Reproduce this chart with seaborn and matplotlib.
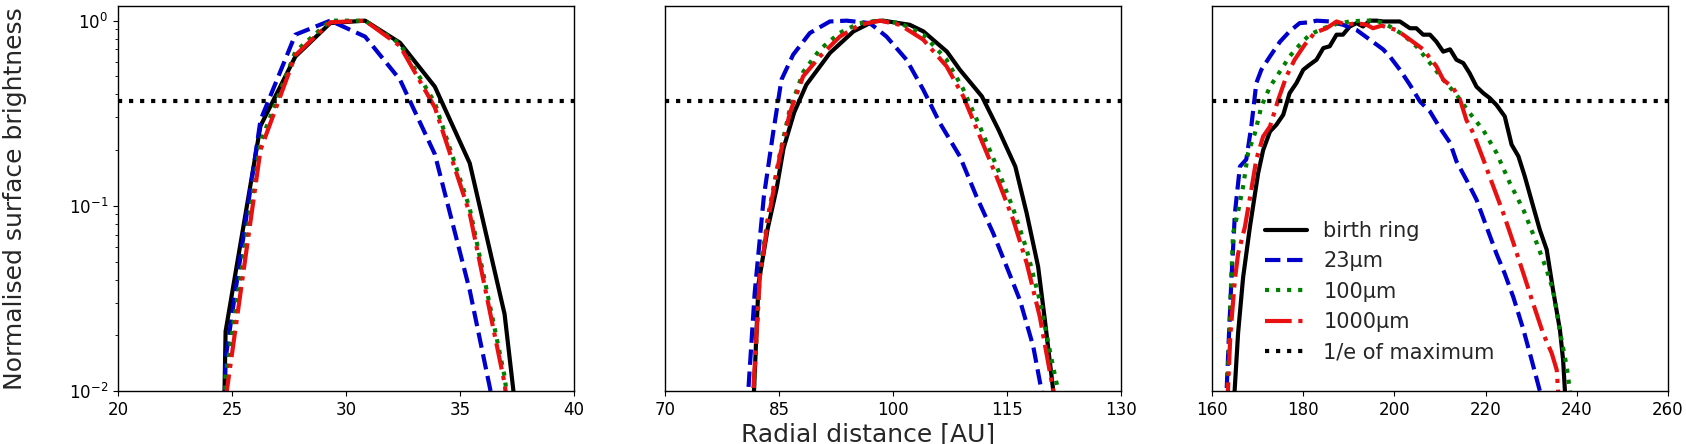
import numpy as np
import matplotlib
matplotlib.use("Agg")
import matplotlib.pyplot as plt
import seaborn as sns

# --- panel 1: inner ring (20-40 AU) ---
r1 = [23.19, 24.72, 26.25, 27.78, 29.31, 30.84, 32.37, 33.90, 35.43, 36.96, 38.49]
birth1 = [1e-12, 0.021, 0.27, 0.64, 0.97, 1.0, 0.76, 0.44, 0.17, 0.026, 0.0006]
s23_1 = [1e-12, 0.015, 0.29, 0.84, 1.0, 0.82, 0.48, 0.19, 0.035, 0.0043, 0.0001]
s100_1 = [1e-12, 0.012, 0.22, 0.68, 1.0, 1.0, 0.75, 0.36, 0.097, 0.012, 0.0003]
s1000_1 = [1e-12, 0.009, 0.20, 0.65, 0.98, 1.0, 0.73, 0.34, 0.091, 0.011, 0.0003]

# --- panel 2: middle ring (70-130 AU) ---
birth2_r = [81.3, 82.3, 83.5, 84.7, 85.6, 87.0, 88.6, 91.7, 94.8, 97.4, 98.7, 102.2, 104.0,
            107.1, 108.8, 111.7, 113.9, 116.1, 117.6, 119.1, 120.0, 121.1, 121.6]
birth2 = [0.004, 0.038, 0.075, 0.125, 0.205, 0.32, 0.451, 0.669, 0.875, 0.99, 1.0, 0.95, 0.875,
          0.68, 0.543, 0.39, 0.257, 0.163, 0.091, 0.047, 0.024, 0.01, 0.005]
s23_2_r = [80.8, 81.8, 83.0, 84.22, 85.32, 86.86, 89.05, 91.69, 93.88, 96.95, 99.15, 101.78,
           103.98, 106.17, 108.8, 111.0, 113.2, 114.95, 116.7, 118.46, 119.56, 120.2]
s23_2 = [0.008, 0.034, 0.112, 0.247, 0.48, 0.655, 0.857, 0.99, 1.0, 0.97, 0.82, 0.615,
         0.424, 0.28, 0.185, 0.112, 0.071, 0.047, 0.031, 0.0174, 0.01, 0.007]
s100_2_r = [81.4, 82.5, 83.6, 85.1, 86.4, 88.2, 90.4, 93.0, 95.6, 98.3, 100.9, 104.0, 107.0,
            109.2, 111.4, 113.6, 115.8, 117.6, 119.3, 121.0, 121.75, 122.3]
s100_2 = [0.006, 0.045, 0.09, 0.19, 0.33, 0.53, 0.70, 0.86, 0.97, 1.0, 0.97, 0.84, 0.62,
          0.43, 0.27, 0.165, 0.097, 0.058, 0.031, 0.014, 0.01, 0.006]
s1000_2_r = [81.3, 82.47, 83.56, 85.1, 86.42, 88.17, 90.37, 93.0, 95.64, 98.27, 100.9, 103.98,
             107.05, 109.25, 111.44, 113.63, 115.83, 117.6, 119.34, 121.1, 121.5]
s1000_2 = [0.006, 0.041, 0.084, 0.185, 0.317, 0.50, 0.64, 0.82, 0.95, 1.0, 0.95, 0.79,
           0.567, 0.39, 0.237, 0.144, 0.084, 0.049, 0.025, 0.01, 0.007]

# --- panel 3: outer ring (160-260 AU) ---
birth3_r = [164.7, 165.7, 166.8, 168.3, 170.1, 171.2, 172.7, 174.1, 175.6, 177.0, 178.5, 180.0,
            181.4, 182.9, 184.4, 185.8, 187.3, 188.7, 190.2, 191.7, 193.1, 194.6, 196.1, 197.5,
            199.0, 201.2, 203.4, 204.8, 206.3, 207.8, 209.2, 210.7, 212.2, 213.6, 215.1, 216.5,
            218.0, 219.5, 220.9, 222.4, 224.2, 225.7, 227.2, 228.6, 230.4, 231.9, 233.4, 234.8,
            236.3, 237.0, 237.4, 237.7]
birth3 = [0.008, 0.0205, 0.041, 0.077, 0.150, 0.20, 0.252, 0.274, 0.31, 0.406, 0.46, 0.543,
          0.578, 0.615, 0.711, 0.727, 0.84, 0.84, 0.93, 0.97, 0.93, 1.0, 1.0, 0.99,
          0.99, 0.99, 0.91, 0.91, 0.84, 0.84, 0.77, 0.68, 0.70, 0.615, 0.59, 0.52,
          0.44, 0.406, 0.382, 0.35, 0.304, 0.214, 0.185, 0.144, 0.10, 0.074, 0.058, 0.035,
          0.0214, 0.0147, 0.01, 0.006]
s23_3_r = [162.8, 163.7, 164.2, 165.0, 166.1, 167.5, 168.6, 169.7, 170.8, 172.7, 174.9, 177.0,
           179.2, 181.4, 182.9, 185.8, 188.7, 191.7, 194.6, 197.5, 199.0, 201.2, 203.4, 205.6,
           207.8, 210.0, 212.2, 213.6, 215.8, 218.0, 220.2, 222.4, 224.2, 226.1, 228.3, 230.1,
           231.9, 232.5]
s23_3 = [0.006, 0.02, 0.038, 0.091, 0.163, 0.178, 0.268, 0.46, 0.543, 0.641, 0.77, 0.875,
         0.97, 0.98, 1.0, 0.99, 0.95, 0.89, 0.79, 0.70, 0.64, 0.543, 0.45, 0.366,
         0.323, 0.263, 0.219, 0.174, 0.138, 0.108, 0.077, 0.055, 0.043, 0.032, 0.0214, 0.0147,
         0.01, 0.008]
s100_3_r = [163.2, 164.0, 164.6, 165.7, 166.8, 167.9, 169.4, 170.8, 172.7, 174.9, 177.0, 179.2,
            181.4, 184.4, 187.3, 190.2, 193.1, 196.1, 199.0, 201.9, 204.8, 207.8, 210.7, 213.6,
            216.5, 219.5, 222.4, 225.3, 228.3, 231.2, 233.4, 234.8, 236.3, 237.8, 238.5, 239.0]
s100_3 = [0.008, 0.03, 0.071, 0.093, 0.127, 0.193, 0.247, 0.344, 0.44, 0.532, 0.641, 0.74,
          0.84, 0.91, 0.96, 0.99, 1.0, 1.0, 0.93, 0.84, 0.727, 0.59, 0.48, 0.398,
          0.317, 0.256, 0.193, 0.133, 0.095, 0.063, 0.045, 0.035, 0.021, 0.0135, 0.01, 0.007]
s1000_3_r = [163.3, 164.0, 165.0, 165.7, 167.2, 168.6, 169.7, 171.2, 172.7, 174.5, 176.3, 178.1,
             180.3, 182.5, 185.1, 187.3, 189.5, 191.7, 193.9, 195.3, 197.2, 199.0, 200.5, 203.4,
             206.3, 209.2, 210.7, 212.9, 214.4, 215.8, 217.3, 219.5, 221.7, 223.9, 226.1, 228.3,
             230.4, 232.6, 234.5, 235.6, 235.9, 236.1]
s1000_3 = [0.008, 0.02, 0.04, 0.055, 0.077, 0.122, 0.178, 0.237, 0.268, 0.374, 0.50, 0.615,
           0.74, 0.86, 0.91, 0.99, 0.95, 0.97, 0.95, 0.91, 0.94, 0.91, 0.89, 0.79,
           0.70, 0.567, 0.48, 0.433, 0.374, 0.29, 0.247, 0.178, 0.127, 0.091, 0.063, 0.043,
           0.0298, 0.0205, 0.016, 0.013, 0.01, 0.006]

labels = ["birth ring", "23\u00b5m", "100\u00b5m", "1000\u00b5m"]
colors = ["black", "mediumblue", "green", "#e81010"]
styles = ["-", "--", ":", "-."]

panels = [
    [(r1, birth1), (r1, s23_1), (r1, s100_1), (r1, s1000_1)],
    [(birth2_r, birth2), (s23_2_r, s23_2), (s100_2_r, s100_2), (s1000_2_r, s1000_2)],
    [(birth3_r, birth3), (s23_3_r, s23_3), (s100_3_r, s100_3), (s1000_3_r, s1000_3)],
]
xlims = [(20, 40), (70, 130), (160, 260)]
xticks = [[20, 25, 30, 35, 40], [70, 85, 100, 115, 130], [160, 180, 200, 220, 240, 260]]

sns.set_style("ticks", {"axes.edgecolor": "black", "xtick.color": "black", "ytick.color": "black"})
plt.rcParams.update({
    "axes.linewidth": 1.0,
    "xtick.major.size": 3.5, "ytick.major.size": 3.5,
    "xtick.minor.size": 2.0, "ytick.minor.size": 2.0,
    "xtick.major.width": 0.8, "ytick.major.width": 0.8,
    "ytick.minor.width": 0.6,
})

fig, axes = plt.subplots(1, 3, figsize=(16.86, 4.44), dpi=100)
fig.subplots_adjust(left=0.07, right=0.9893, top=0.9865, bottom=0.1194, wspace=0.2)

for i, ax in enumerate(axes):
    for (x, y), lab, c, ls in zip(panels[i], labels, colors, styles):
        sns.lineplot(x=x, y=y, ax=ax, color=c, linestyle=ls, lw=3,
                     label=lab if i == 2 else None, legend=False)
    ax.axhline(np.exp(-1), color="black", linestyle=":", lw=3,
               label="1/e of maximum" if i == 2 else None)
    ax.set_yscale("log")
    ax.set_ylim(0.01, 1.2)
    ax.set_xlim(*xlims[i])
    ax.set_xticks(xticks[i])
    ax.tick_params(labelsize=12)
    if i > 0:
        ax.tick_params(axis="y", which="both", left=False, labelleft=False)

axes[0].set_ylabel("Normalised surface brightness", fontsize=18, labelpad=30)
fig.text(0.515, 0.0495, "Radial distance [AU]", fontsize=18, ha="center", va="top")

axes[2].legend(loc="lower left", bbox_to_anchor=(0.075, 0.025), frameon=False, fontsize=15)

fig.savefig("out.png", dpi=100)
